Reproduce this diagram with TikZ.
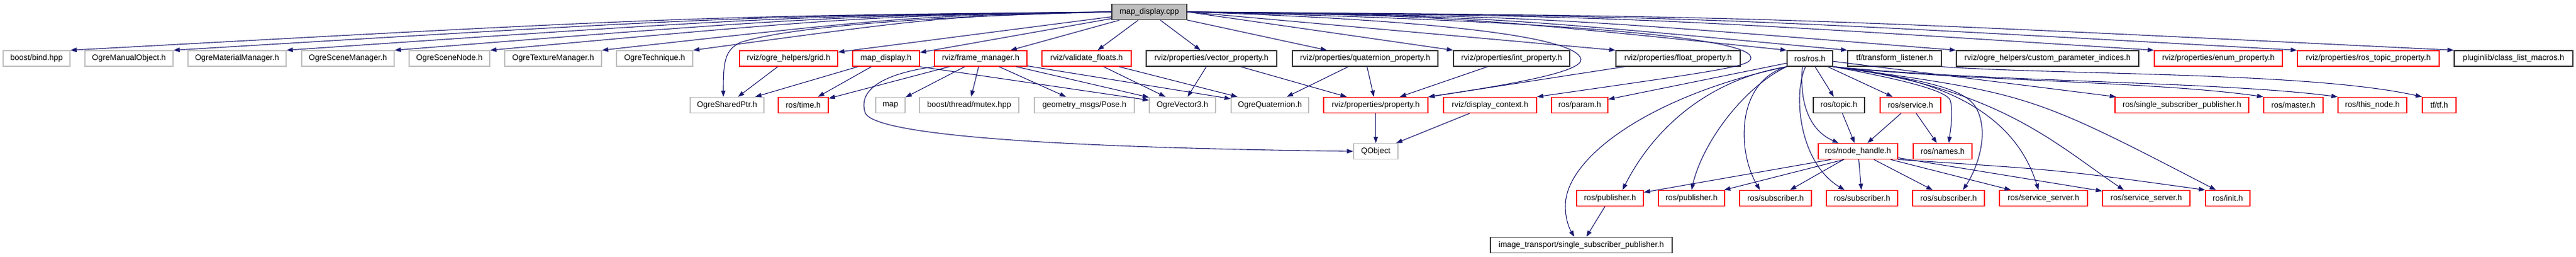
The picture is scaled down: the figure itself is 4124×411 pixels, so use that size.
\documentclass[tikz,border=0pt]{standalone}
\usepackage{fontspec}
\setmainfont{Liberation Sans}
\usetikzlibrary{arrows.meta}
\definecolor{edgeblue}{RGB}{25,25,112}
\definecolor{nodegray}{RGB}{191,191,191}
\definecolor{nodered}{RGB}{255,0,0}
\begin{document}
\begin{tikzpicture}[x=1pt, y=-1pt,
    hdr/.style={rectangle, inner sep=0pt, minimum height=25pt, line width=1.4pt,
        font=\fontsize{12.8}{15}\selectfont, text=black},
    sysfile/.style={hdr, draw=nodegray},
    cutfile/.style={hdr, draw=nodered},
    docfile/.style={hdr, draw=black!80},
    rootfile/.style={hdr, draw=black!80, fill=nodegray},
    dep/.style={draw=edgeblue, line width=1.1pt, -{Stealth[inset=0pt, length=10pt, width=7pt]}}]
    \useasboundingbox (0,0) rectangle (4124,411);

    \node[rootfile, minimum width=120pt] (mapcpp) at (1840,19) {map\_display.cpp};

    \node[sysfile, minimum width=107pt] (bind) at (58.5,93.5) {boost/bind.hpp};
    \node[sysfile, minimum width=141pt] (manualobj) at (206.5,93.5) {OgreManualObject.h};
    \node[sysfile, minimum width=157pt] (materialmgr) at (379.5,93.5) {OgreMaterialManager.h};
    \node[sysfile, minimum width=148pt] (scenemgr) at (557,93.5) {OgreSceneManager.h};
    \node[sysfile, minimum width=129pt] (scenenode) at (719.5,93.5) {OgreSceneNode.h};
    \node[sysfile, minimum width=155pt] (texturemgr) at (885.5,93.5) {OgreTextureManager.h};
    \node[sysfile, minimum width=122pt] (technique) at (1048,93.5) {OgreTechnique.h};
    \node[cutfile, minimum width=157pt] (grid) at (1262.5,93.5) {rviz/ogre\_helpers/grid.h};
    \node[cutfile, minimum width=107pt] (mapdisp) at (1418.5,93.5) {map\_display.h};
    \node[cutfile, minimum width=148pt] (framemgr) at (1570,93.5) {rviz/frame\_manager.h};
    \node[cutfile, minimum width=143pt] (validate) at (1739.5,93.5) {rviz/validate\_floats.h};
    \node[docfile, minimum width=209pt] (vecprop) at (1939.5,93.5) {rviz/properties/vector\_property.h};
    \node[docfile, minimum width=233pt] (quatprop) at (2185.5,93.5) {rviz/properties/quaternion\_property.h};
    \node[docfile, minimum width=186pt] (intprop) at (2420,93.5) {rviz/properties/int\_property.h};
    \node[docfile, minimum width=199pt] (floatprop) at (2686.5,93.5) {rviz/properties/float\_property.h};
    \node[docfile, minimum width=73pt] (rosros) at (2897.5,93.5) {ros/ros.h};
    \node[docfile, minimum width=150pt] (tflistener) at (3033,93.5) {tf/transform\_listener.h};
    \node[docfile, minimum width=292pt] (customidx) at (3278,93.5) {rviz/ogre\_helpers/custom\_parameter\_indices.h};
    \node[cutfile, minimum width=205pt] (enumprop) at (3551.5,93.5) {rviz/properties/enum\_property.h};
    \node[cutfile, minimum width=227pt] (topicprop) at (3791.5,93.5) {rviz/properties/ros\_topic\_property.h};
    \node[docfile, minimum width=190pt] (pluginlib) at (4024,93.5) {pluginlib/class\_list\_macros.h};

    \node[sysfile, minimum width=118pt] (sharedptr) at (1164,168) {OgreSharedPtr.h};
    \node[cutfile, minimum width=80pt] (rostime) at (1286,168) {ros/time.h};
    \node[sysfile, minimum width=47pt] (stdmap) at (1425.5,168) {map};
    \node[sysfile, minimum width=159pt] (mutex) at (1551.5,168) {boost/thread/mutex.hpp};
    \node[sysfile, minimum width=160pt] (pose) at (1736,168) {geometry\_msgs/Pose.h};
    \node[sysfile, minimum width=106pt] (vector3) at (1893,168) {OgreVector3.h};
    \node[sysfile, minimum width=124pt] (quaternion) at (2033,168) {OgreQuaternion.h};
    \node[cutfile, minimum width=167pt] (property) at (2202.5,168) {rviz/properties/property.h};
    \node[cutfile, minimum width=149pt] (dispctx) at (2385.5,168) {rviz/display\_context.h};
    \node[cutfile, minimum width=90pt] (param) at (2529,168) {ros/param.h};
    \node[docfile, minimum width=82pt] (topic) at (2944,168) {ros/topic.h};
    \node[cutfile, minimum width=97pt] (service) at (3058.5,168) {ros/service.h};
    \node[cutfile, minimum width=214pt] (sspub) at (3493,168) {ros/single\_subscriber\_publisher.h};
    \node[cutfile, minimum width=95pt] (master) at (3671.5,168) {ros/master.h};
    \node[cutfile, minimum width=110pt] (thisnode) at (3798,168) {ros/this\_node.h};
    \node[cutfile, minimum width=54pt] (tftf) at (3905,168) {tf/tf.h};

    \node[sysfile, minimum width=71pt] (qobject) at (2202.5,242) {QObject};
    \node[cutfile, minimum width=127pt] (nodehandle) at (2974.5,242) {ros/node\_handle.h};
    \node[cutfile, minimum width=94pt] (names) at (3110,242) {ros/names.h};

    \node[cutfile, minimum width=107pt] (pubA) at (2577.5,317) {ros/publisher.h};
    \node[cutfile, minimum width=106pt] (pubB) at (2708,317) {ros/publisher.h};
    \node[cutfile, minimum width=115pt] (subA) at (2842.5,317) {ros/subscriber.h};
    \node[cutfile, minimum width=114pt] (subB) at (2981,317) {ros/subscriber.h};
    \node[cutfile, minimum width=115pt] (subC) at (3119.5,317) {ros/subscriber.h};
    \node[cutfile, minimum width=141pt] (srvA) at (3271.5,317) {ros/service\_server.h};
    \node[cutfile, minimum width=140pt] (srvB) at (3436,317) {ros/service\_server.h};
    \node[cutfile, minimum width=71pt] (rosinit) at (3566.5,317) {ros/init.h};

    \node[docfile, minimum width=291pt] (itssp) at (2531.5,392) {image\_transport/single\_subscriber\_publisher.h};

    \draw[dep] (mapcpp.west) .. controls (1113,26) .. (bind.north east);
    \draw[dep] (mapcpp.west) .. controls (1179,26) .. (manualobj.north east);
    \draw[dep] (mapcpp.west) .. controls (1251,26) .. (materialmgr.north east);
    \draw[dep] (mapcpp.west) .. controls (1320,26) .. (scenemgr.north east);
    \draw[dep] (mapcpp.west) .. controls (1382,26) .. (scenenode.north east);
    \draw[dep] (mapcpp.west) .. controls (1453,26) .. (texturemgr.north east);
    \draw[dep] (mapcpp.west) .. controls (1512,26) .. (technique.north east);
    \draw[dep] (mapcpp.west) .. controls (1400,28) and (1240,50) .. (1185,68) .. controls (1160,80) and (1158,100) .. ([xshift=-6pt]sharedptr.north);
    \draw[dep] (mapcpp) -- (grid);
    \draw[dep] (mapcpp) -- (mapdisp);
    \draw[dep] (mapcpp) -- (framemgr);
    \draw[dep] (mapcpp) -- (validate);
    \draw[dep] (mapcpp) -- (vecprop);
    \draw[dep] (mapcpp) -- (quatprop);
    \draw[dep] (mapcpp.east) -- (intprop.north west);
    \draw[dep] (mapcpp.east) -- (floatprop.north west);
    \draw[dep] (mapcpp.east) .. controls (2250,30) and (2525,55) .. (2531,95) .. controls (2533,115) and (2420,135) .. (property.north east);
    \draw[dep] (mapcpp.east) .. controls (2400,30) and (2800,55) .. (2803,92) .. controls (2805,106) and (2760,112) .. (dispctx.north east);
    \draw[dep] (mapcpp.east) .. controls (2332,26) .. (rosros.north west);
    \draw[dep] (mapcpp.east) .. controls (2376,26) .. (tflistener.north west);
    \draw[dep] (mapcpp.east) .. controls (2454,26) .. (customidx.north west);
    \draw[dep] (mapcpp.east) .. controls (2597,26) .. (enumprop.north west);
    \draw[dep] (mapcpp.east) .. controls (2700,26) .. (topicprop.north west);
    \draw[dep] (mapcpp.east) .. controls (2813,26) .. (pluginlib.north west);

    \draw[dep] (grid) -- (sharedptr);
    \draw[dep] (mapdisp) -- (sharedptr);
    \draw[dep] (mapdisp) -- (rostime);
    \draw[dep] (mapdisp.south east) -- (vector3);
    \draw[dep] (framemgr) -- (rostime);
    \draw[dep] (framemgr.south west) .. controls (1400,120) and (1375,150) .. (1385,180) .. controls (1395,210) and (1600,235) .. (qobject.west);
    \draw[dep] (framemgr) -- (stdmap);
    \draw[dep] (framemgr) -- (mutex);
    \draw[dep] (framemgr) -- (pose);
    \draw[dep] (framemgr) -- (vector3);
    \draw[dep] (framemgr) -- (quaternion);
    \draw[dep] (validate) -- (vector3);
    \draw[dep] (validate) -- (quaternion);
    \draw[dep] (vecprop) -- (vector3);
    \draw[dep] (vecprop) -- (property);
    \draw[dep] (quatprop) -- (quaternion);
    \draw[dep] (quatprop) -- (property);
    \draw[dep] (intprop) -- (property);
    \draw[dep] (floatprop) -- (property);
    \draw[dep] (property) -- (qobject);
    \draw[dep] (dispctx) -- (qobject);

    \draw[dep] (rosros) -- (param);
    \draw[dep] (rosros.south west) .. controls (2720,130) and (2640,220) .. ([xshift=20pt]pubA.north);
    \draw[dep] (rosros.south west) .. controls (2790,140) and (2725,230) .. (pubB.north);
    \draw[dep] (rosros.south west) .. controls (2650,150) and (2505,250) .. (2506,330) .. controls (2506,350) and (2512,365) .. ([xshift=-11pt]itssp.north);
    \draw[dep] (rosros.south west) .. controls (2780,130) and (2780,240) .. ([xshift=-25pt]subA.north);
    \draw[dep] ([xshift=-7pt]rosros.south) .. controls (2870,150) and (2880,260) .. ([xshift=-28pt]subB.north);
    \draw[dep] ([xshift=-12pt]rosros.south) .. controls (2880,170) and (2900,210) .. ([xshift=-31pt]nodehandle.north);
    \draw[dep] (rosros) -- (topic);
    \draw[dep] (rosros) -- (service);
    \draw[dep] (rosros.south east) .. controls (3050,128) and (3115,145) .. (3122,160) .. controls (3128,180) and (3122,210) .. ([xshift=10pt]names.north);
    \draw[dep] (rosros.south east) .. controls (3100,130) and (3150,145) .. (3165,175) .. controls (3185,215) and (3165,270) .. ([xshift=23pt]subC.north);
    \draw[dep] (rosros.south east) .. controls (3180,130) and (3240,230) .. ([xshift=-8pt]srvA.north);
    \draw[dep] (rosros.south east) .. controls (3200,140) and (3290,230) .. ([xshift=-36pt]srvB.north);
    \draw[dep] (rosros.south east) .. controls (3250,150) .. ([xshift=-19pt]rosinit.north);
    \draw[dep] (rosros) -- (sspub);
    \draw[dep] (rosros.south east) .. controls (3150,130) and (3450,130) .. (master.north west);
    \draw[dep] (rosros.south east) .. controls (3200,132) and (3550,130) .. (thisnode.north west);
    \draw[dep] (tflistener.south east) .. controls (3300,120) and (3700,115) .. (tftf.north west);

    \draw[dep] (topic) -- (nodehandle);
    \draw[dep] (service) -- (nodehandle);
    \draw[dep] (service) -- (names);
    \draw[dep] ([xshift=21pt]nodehandle.south west) -- (pubA);
    \draw[dep] ([xshift=42pt]nodehandle.south west) -- (pubB);
    \draw[dep] (nodehandle) -- (subA);
    \draw[dep] (nodehandle) -- (subB);
    \draw[dep] (nodehandle) -- (subC);
    \draw[dep] (nodehandle) -- (srvA);
    \draw[dep] (nodehandle) -- (srvB);
    \draw[dep] (nodehandle.south east) .. controls (3300,272) .. (rosinit.north west);
    \draw[dep] (pubA) -- (itssp);
\end{tikzpicture}
\end{document}
